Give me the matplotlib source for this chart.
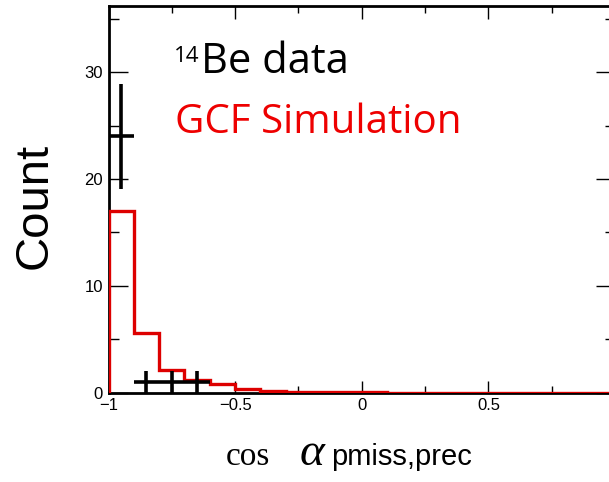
import numpy as np
import matplotlib
matplotlib.use("Agg")
import matplotlib.pyplot as plt
from matplotlib.ticker import MultipleLocator, FixedLocator

# GCF simulation histogram (bin edges and contents)
sim_edges = np.round(np.arange(-1.0, 1.0001, 0.1), 2)
sim_counts = [17.0, 5.6, 2.1, 1.2, 0.85, 0.3, 0.18, 0.04, 0.03, 0.02,
              0.02, 0.01, 0.01, 0.01, 0.0, 0.0, 0.0, 0.0, 0.0, 0.0]

# 14Be data points
data_x = [-0.95, -0.85, -0.75, -0.65]
data_y = [24, 1, 1, 1]
data_xerr = [0.05, 0.05, 0.05, 0.05]
data_yerr = [4.9, 1.0, 1.0, 1.0]

x_ticks = [-1, -0.5, 0, 0.5]
x_ticklabels = ["\u22121", "\u22120.5", "0", "0.5"]
y_ticks = [0, 10, 20, 30]

W, H = 609, 482
fig = plt.figure(figsize=(W / 100, H / 100), dpi=100)
left, right, top, bottom = 108.5, 615, 6, 392.7
ax = fig.add_axes([left / W, (H - bottom) / H, (right - left) / W, (bottom - top) / H])

ax.stairs(sim_counts, sim_edges, color="#dd0000", lw=2.4, zorder=3)
ax.errorbar(data_x, data_y, xerr=data_xerr, yerr=data_yerr, fmt="none",
            ecolor="black", elinewidth=2.6, capsize=0, zorder=4)

ax.set_xlim(-1, 1)
ax.set_ylim(0, 36.2)
ax.xaxis.set_major_locator(FixedLocator(x_ticks))
ax.set_xticklabels(x_ticklabels)
ax.xaxis.set_minor_locator(MultipleLocator(0.25))
ax.set_yticks(y_ticks)
ax.yaxis.set_minor_locator(MultipleLocator(5))

for s in ax.spines.values():
    s.set_linewidth(2.0)
ax.tick_params(which="both", direction="in", top=True, right=True,
               labelsize=12, width=1.0, colors="black", pad=4)
ax.tick_params(which="major", length=14)
ax.tick_params(which="minor", length=7)
ax.tick_params(axis="x", which="major", length=9)
ax.tick_params(axis="x", which="minor", length=5)
for lab in ax.get_xticklabels() + ax.get_yticklabels():
    lab.set_family("Liberation Sans")

# legend-style labels
fig.text(174 / W, (H - 62) / H, "14", fontsize=16, family="Open Sans",
         color="black", va="baseline", ha="left")
fig.text(201 / W, (H - 73) / H, "Be data", fontsize=30, family="Open Sans",
         color="black", va="baseline", ha="left")
fig.text(175 / W, (H - 133) / H, "GCF Simulation", fontsize=29,
         family="Open Sans", color="#ee0000", va="baseline", ha="left")

fig.text(13 / W, (H - 206) / H, "Count", rotation=90, fontsize=34,
         family="Liberation Sans", ha="left", va="center")

# x-axis title: cos alpha with a sans-serif subscript
fig.text(226 / W, 17 / H, "cos", fontsize=24, family="Liberation Serif",
         va="baseline", ha="left")
fig.text(300 / W, 17 / H, "\u03b1", fontsize=34, family="Liberation Serif",
         style="italic", va="baseline", ha="left")
fig.text(331 / W, 17 / H, "pmiss,prec", fontsize=21, family="Liberation Sans",
         va="baseline", ha="left")

fig.savefig("out.png", dpi=100)
